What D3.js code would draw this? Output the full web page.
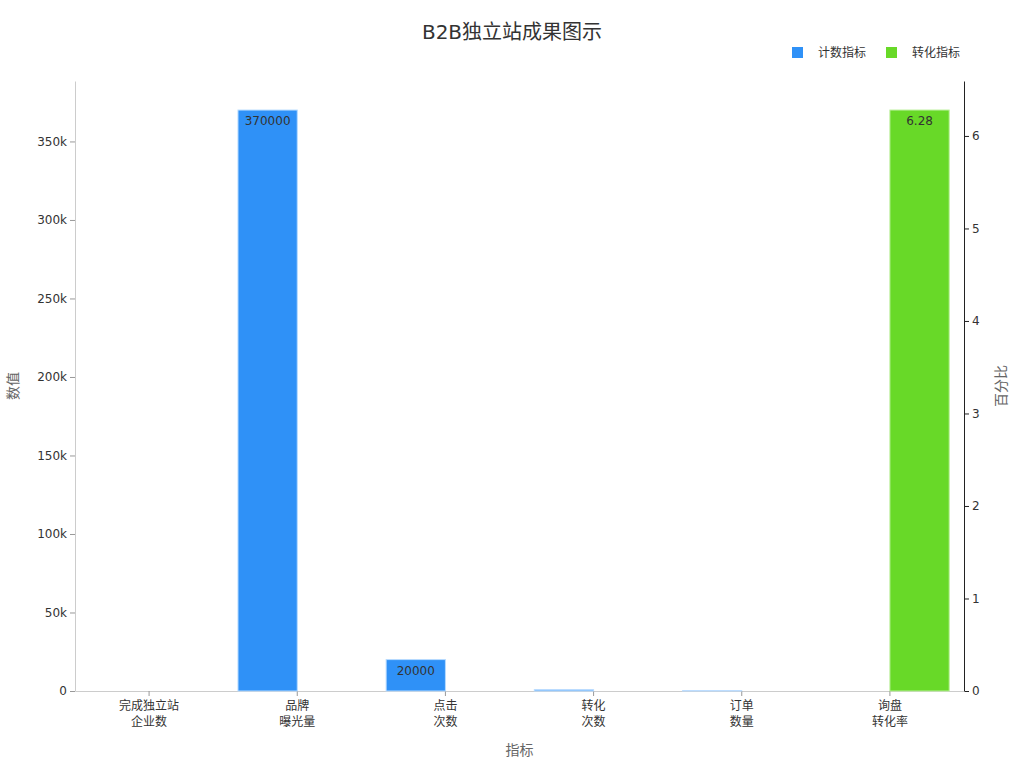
<!DOCTYPE html>
<html>
<head>
<meta charset="utf-8">
<script src="https://cdn.jsdelivr.net/npm/d3@7"></script>
<style>
  body { margin: 0; background: #fff; }
  text { font-family: "DejaVu Sans", "Noto Sans CJK SC", sans-serif; }
</style>
</head>
<body>
<div id="chart"></div>
<script>
// categories and values
const categories = ["完成独立站\n企业数", "品牌\n曝光量", "点击\n次数", "转化\n次数", "订单\n数量", "询盘\n转化率"];
const countValues = [null, 370000, 20000, 800, 150, null];   // 计数指标, left axis
const rateValues = [null, null, null, null, null, 6.28];     // 转化指标, right axis
const leftTicks = [0, 50000, 100000, 150000, 200000, 250000, 300000, 350000];
const rightTicks = [0, 1, 2, 3, 4, 5, 6];
const seriesNames = ["计数指标", "转化指标"];
const seriesColors = ["#2f91f7", "#68d928"];

const W = 1024, H = 768;
const margin = { top: 81, right: 60, bottom: 77, left: 75 };
const width = W - margin.left - margin.right;
const height = H - margin.top - margin.bottom;

const svg = d3.select("#chart")
    .append("svg")
    .attr("width", W)
    .attr("height", H);

const g = svg.append("g")
    .attr("transform", `translate(${margin.left},${margin.top})`);

// scales
const x = d3.scaleBand()
    .domain(categories)
    .range([0, width])
    .padding(0);

const xSub = d3.scaleBand()
    .domain([0, 1])
    .range([x.bandwidth() * 0.1, x.bandwidth() * 0.9]);

const yLeft = d3.scaleLinear()
    .domain([0, d3.max(countValues) * 1.05])
    .range([height, 0]);

const yRight = d3.scaleLinear()
    .domain([0, d3.max(rateValues) * 1.05])
    .range([height, 0]);

// left axis
const leftAxis = g.append("g")
    .call(d3.axisLeft(yLeft).tickValues(leftTicks).tickSize(5).tickSizeOuter(0)
        .tickFormat(d => d === 0 ? "0" : d / 1000 + "k"));
leftAxis.select(".domain").attr("stroke", "#ccc");
leftAxis.selectAll(".tick line").attr("stroke", "#999");
leftAxis.selectAll(".tick text").attr("fill", "#333").style("font-size", "12px");

// right axis
const rightAxis = g.append("g")
    .attr("transform", `translate(${width},0)`)
    .call(d3.axisRight(yRight).tickValues(rightTicks).tickSize(5).tickSizeOuter(0).tickFormat(d3.format("d")));
rightAxis.select(".domain").attr("stroke", "#222");
rightAxis.selectAll(".tick line").attr("stroke", "#222");
rightAxis.selectAll(".tick text").attr("fill", "#333").style("font-size", "12px");

// x axis
const xAxis = g.append("g")
    .attr("transform", `translate(0,${height})`)
    .call(d3.axisBottom(x).tickSize(5).tickPadding(5).tickSizeOuter(0));
xAxis.select(".domain").attr("stroke", "#ccc");
xAxis.selectAll(".tick line").attr("stroke", "#999");
xAxis.selectAll(".tick text").each(function (d) {
    const t = d3.select(this).text(null).attr("fill", "#333").style("font-size", "12px");
    d.split("\n").forEach((line, i) => {
        t.append("tspan").attr("x", 0).attr("dy", i === 0 ? "0.71em" : "1.35em").text(line);
    });
});

// bars
const fmt = v => String(v);
categories.forEach((c, i) => {
    const vals = [countValues[i], rateValues[i]];
    const scales = [yLeft, yRight];
    vals.forEach((v, s) => {
        if (v == null) return;
        const sc = scales[s];
        const bx = x(c) + xSub(s);
        g.append("rect")
            .attr("x", bx)
            .attr("y", sc(v))
            .attr("width", xSub.bandwidth())
            .attr("height", height - sc(v))
            .attr("fill", seriesColors[s])
            .attr("stroke", s === 0 ? "#b7dbff" : "#b9ef98")
            .attr("stroke-width", 1);
        if (height - sc(v) > 18) {
            g.append("text")
                .attr("x", bx + xSub.bandwidth() / 2)
                .attr("y", sc(v) + 15)
                .attr("text-anchor", "middle")
                .attr("fill", "#333")
                .style("font-size", "12px")
                .text(fmt(v));
        }
    });
});

// title
svg.append("text")
    .attr("x", W / 2)
    .attr("y", 39)
    .attr("text-anchor", "middle")
    .attr("fill", "#333")
    .style("font-size", "20px")
    .text("B2B独立站成果图示");

// axis titles
svg.append("text")
    .attr("transform", `translate(18,${margin.top + height / 2}) rotate(-90)`)
    .attr("text-anchor", "middle")
    .attr("fill", "#666")
    .style("font-size", "14px")
    .text("数值");

svg.append("text")
    .attr("transform", `translate(1006,${margin.top + height / 2}) rotate(-90)`)
    .attr("text-anchor", "middle")
    .attr("fill", "#666")
    .style("font-size", "14px")
    .text("百分比");

svg.append("text")
    .attr("x", margin.left + width / 2)
    .attr("y", 755)
    .attr("text-anchor", "middle")
    .attr("fill", "#666")
    .style("font-size", "14px")
    .text("指标");

// legend
const legendX = [792, 886];
seriesNames.forEach((name, i) => {
    svg.append("rect")
        .attr("x", legendX[i])
        .attr("y", 47)
        .attr("width", 11)
        .attr("height", 11)
        .attr("fill", seriesColors[i]);
    svg.append("text")
        .attr("x", legendX[i] + 26)
        .attr("y", 57)
        .attr("fill", "#333")
        .style("font-size", "12px")
        .text(name);
});
</script>
</body>
</html>
